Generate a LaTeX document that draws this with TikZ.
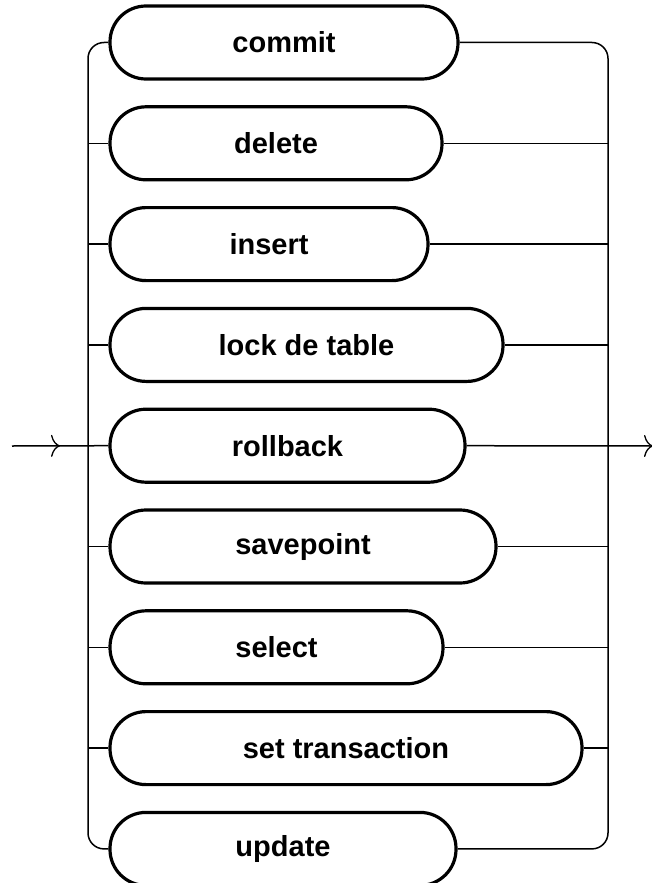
\documentclass[tikz,border=0pt]{standalone}
\usepackage{fontspec}
\setmainfont{Liberation Sans}
\usetikzlibrary{arrows.meta,decorations.markings}

\tikzset{
  kw/.style={draw, line width=3.2pt, rounded corners=36pt, minimum height=73pt,
             inner sep=0pt, font=\fontsize{29}{32}\selectfont\bfseries},
  rail/.style={line width=1.5pt},
  tip/.style={-{To[length=9pt,width=22pt,line width=1.3pt]}}
}

% keyword box: #1 name, #2 row, #3 right end, #4 text
\newcommand{\kwbox}[4]{%
  \pgfmathsetmacro{\rowy}{42.5+100.8*#2}%
  \pgfmathsetmacro{\boxw}{#3-110}%
  \pgfmathsetmacro{\boxc}{(#3+110)/2}%
  \node[kw, minimum width=\boxw pt] (#1) at (\boxc,\rowy) {#4};%
}

\begin{document}
\begin{tikzpicture}[x=1pt,y=-1pt]
\useasboundingbox (0,0) rectangle (652,883);

\kwbox{commit}{0}{458}{commit}
\kwbox{delete}{1}{442}{delete}
\kwbox{insert}{2}{428}{insert}
\kwbox{lock}{3}{503}{lock de table}
\kwbox{rollback}{4}{465}{rollback}
\kwbox{savepoint}{5}{496}{savepoint}
\kwbox{select}{6}{443}{select}
\kwbox{settrans}{7}{582}{set transaction}
\kwbox{update}{8}{456}{update}

% the two vertical rails
\coordinate (lrail) at (88,446);
\coordinate (rrail) at (608,446);
\coordinate (start) at (12,446);
\coordinate (finish) at (653,446);

\draw[rail, rounded corners=16pt] (commit.west) -| (lrail) |- (update.west);
\draw[rail, rounded corners=16pt] (commit.east) -| (rrail) |- (update.east);

% branches into and out of each keyword
\foreach \b in {delete,insert,lock,savepoint,select,settrans}{
  \draw[rail] (lrail |- \b.west) -- (\b.west);
  \draw[rail] (\b.east) -- (rrail |- \b.east);
}

% entry and exit
\draw[rail, postaction={decorate, decoration={markings,
      mark=at position 48pt with {\arrow{To[length=9pt,width=22pt,line width=1.3pt]}}}}]
  (start) -- (rollback.west);
\draw[rail, tip] (rollback.east) -- (finish);
\end{tikzpicture}
\end{document}
